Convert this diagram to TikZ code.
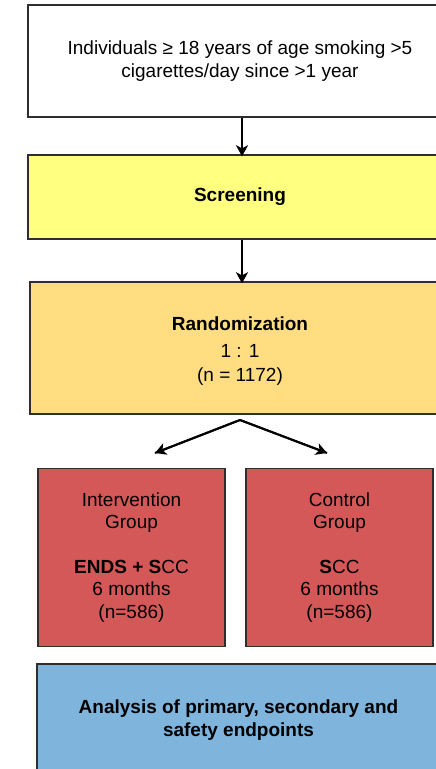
\documentclass[tikz,border=0pt]{standalone}
\usepackage{fontspec}
\setmainfont{Liberation Sans}
\usetikzlibrary{arrows.meta}
\definecolor{bord}{HTML}{2E2E2E}
\definecolor{yel}{HTML}{FFFF80}
\definecolor{gold}{HTML}{FFDD80}
\definecolor{redb}{HTML}{D55858}
\definecolor{blueb}{HTML}{7FB4DC}
\tikzset{
  box/.style={draw=bord, line width=1.4pt, inner sep=0pt, align=center,
    font=\fontsize{19}{22.5}\selectfont},
  arr/.style={draw=black, line width=2pt, -{Stealth[length=11pt,width=12pt,inset=3pt]}},
}
\begin{document}
\begin{tikzpicture}[x=1pt,y=-1pt]
\useasboundingbox (0,0) rectangle (436,769);
\clip (0,0) rectangle (436,769);
% top box
\node[box, fill=white, minimum width=424pt, minimum height=112pt] (top) at (240,61)
  {Individuals ≥ 18 years of age smoking >5\\cigarettes/day since >1 year};
% screening
\node[box, fill=yel, minimum width=424pt, minimum height=84pt] (screen) at (240,197)
  {\raisebox{-2pt}{\textbf{Screening}}};
% randomization
\node[box, fill=gold, minimum width=420pt, minimum height=132pt] (rand) at (240,348) {};
\node[font=\fontsize{19}{22}\selectfont\bfseries] (randt) at (240,324) {Randomization};
\node[font=\fontsize{19}{22}\selectfont] (ratio) at (240,351) {1 : 1};
\node[font=\fontsize{19}{22}\selectfont] (ntot) at (240,377) {(n = 1172)};
% groups
\node[box, fill=redb, minimum width=187pt, minimum height=178pt] (int) at (131.5,557.5)
  {Intervention\\Group\\[22pt]\textbf{ENDS + S}CC\\6 months\\(n=586)};
\node[box, fill=redb, minimum width=187pt, minimum height=178pt] (ctl) at (339.5,557.5)
  {Control\\Group\\[22pt]\textbf{S}CC\\6 months\\(n=586)};
% analysis
\node[box, fill=blueb, minimum width=403pt, minimum height=112pt] (ana) at (238.5,720)
  {\textbf{Analysis of primary, secondary and}\\\textbf{safety endpoints}};
% connectors
\draw[arr] (top.south -| 242,0) -- ([yshift=-2pt]screen.north -| 242,0);
\draw[arr] (screen.south -| 242,0) -- ([yshift=-2pt]rand.north -| 242,0);
\coordinate (split) at (240,420);
\coordinate (lt) at (155,453);
\coordinate (rt) at (327,453);
\draw[line width=2pt, line join=miter] (lt) -- (split) -- (rt);
\draw[arr] (split) -- (lt);
\draw[arr] (split) -- (rt);
\end{tikzpicture}
\end{document}
